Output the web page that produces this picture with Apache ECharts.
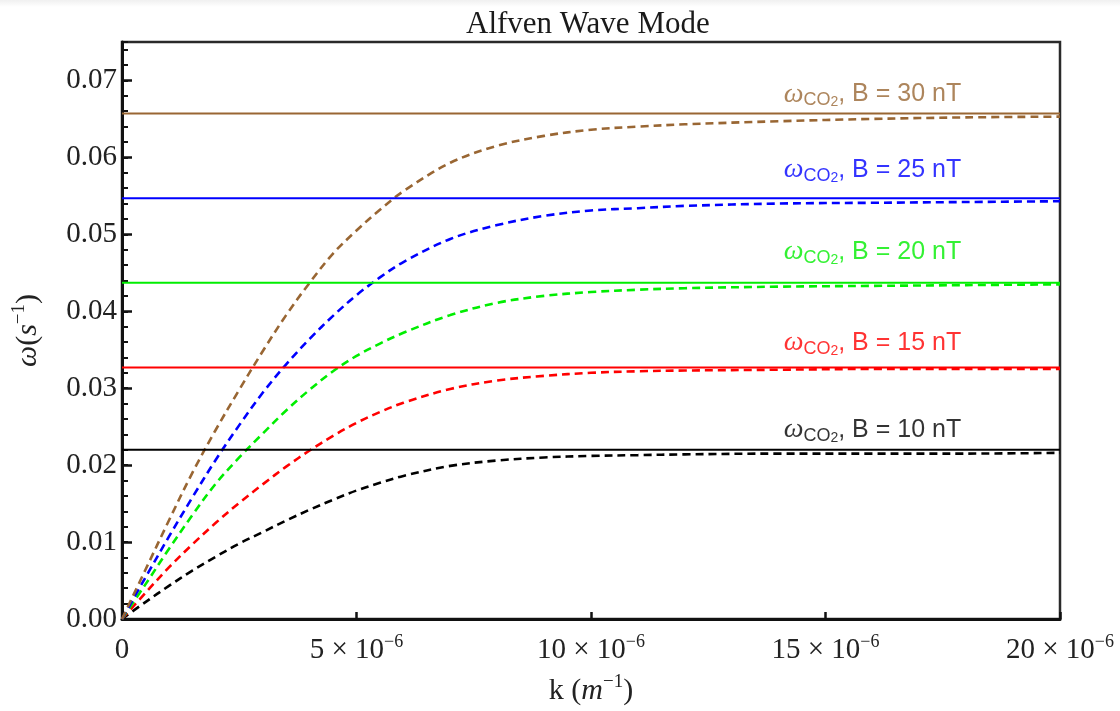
<!DOCTYPE html>
<html>
<head>
<meta charset="utf-8">
<title>Alfven Wave Mode</title>
<script src="https://cdn.jsdelivr.net/npm/echarts@6/dist/echarts.min.js"></script>
<style>
  html, body { margin: 0; padding: 0; background: #ffffff; }
  #chart { width: 1120px; height: 711px; }
</style>
</head>
<body>
<div id="chart"></div>
<script>
// Wavenumber k, in units of 10^-6 m^-1
const kValues = [0, 0.5, 1, 1.5, 2, 2.5, 3, 3.5, 4, 4.5, 5, 5.5, 6, 7, 8, 9, 10, 11, 12, 14, 16, 18, 20];

// Alfven-mode dispersion omega(k) in s^-1, one curve per field strength
const omegaB10 = [0, 0.0022, 0.0043, 0.0063, 0.0081, 0.0098, 0.0113, 0.0128, 0.0142, 0.0155, 0.0167, 0.0177, 0.0186, 0.0199, 0.0206, 0.0210, 0.0212, 0.0213, 0.0214, 0.0215, 0.0215, 0.0215, 0.0216];
const omegaB15 = [0, 0.0034, 0.0067, 0.0097, 0.0125, 0.0151, 0.0175, 0.0198, 0.0219, 0.0238, 0.0255, 0.0269, 0.0281, 0.0299, 0.0310, 0.0316, 0.0320, 0.0322, 0.0323, 0.0324, 0.0325, 0.0325, 0.0325];
const omegaB20 = [0, 0.0045, 0.0091, 0.0135, 0.0176, 0.0210, 0.0241, 0.0271, 0.0298, 0.0322, 0.0342, 0.0358, 0.0372, 0.0395, 0.0411, 0.0420, 0.0425, 0.0428, 0.0430, 0.0432, 0.0433, 0.0434, 0.0435];
const omegaB25 = [0, 0.0054, 0.0107, 0.0158, 0.0207, 0.0252, 0.0294, 0.0331, 0.0364, 0.0394, 0.0421, 0.0444, 0.0464, 0.0494, 0.0512, 0.0524, 0.0531, 0.0534, 0.0537, 0.0540, 0.0541, 0.0542, 0.0543];
const omegaB30 = [0, 0.0064, 0.0128, 0.0190, 0.0246, 0.0298, 0.0348, 0.0395, 0.0437, 0.0475, 0.0505, 0.0532, 0.0556, 0.0593, 0.0615, 0.0628, 0.0636, 0.0640, 0.0643, 0.0647, 0.0650, 0.0652, 0.0653];

// Field strengths (nT) and the limiting frequency omega_CO2 for each
const fieldB = [10, 15, 20, 25, 30];
const omegaCO2 = [0.0220, 0.0327, 0.0437, 0.0547, 0.0657];

// Where each omega_CO2 caption sits (k in 10^-6 m^-1, omega in s^-1)
const captionK = 16;
const captionOmega = [0.0246, 0.0359, 0.0477, 0.0584, 0.0682];

// Axis tick values
const xTicks = [0, 5, 10, 15, 20];
const yTicks = [0, 0.01, 0.02, 0.03, 0.04, 0.05, 0.06, 0.07];

const curves = [omegaB10, omegaB15, omegaB20, omegaB25, omegaB30];
const colors = ['#000000', '#ff0000', '#00ee00', '#0000ff', '#996633'];

const serif = '"Liberation Serif", "Times New Roman", serif';
const sans = '"Liberation Sans", Arial, sans-serif';
const textColor = '#222222';

const series = [];
fieldB.forEach((b, i) => {
  series.push({
    name: 'omega B=' + b,
    type: 'line',
    data: kValues.map((k, j) => [k, curves[i][j]]),
    showSymbol: false,
    smooth: 0.35,
    lineStyle: { color: colors[i], width: 2.6, type: [8, 5] },
    z: 3
  });
  series.push({
    name: 'omegaCO2 B=' + b,
    type: 'line',
    data: [[xTicks[0], omegaCO2[i]], [xTicks[xTicks.length - 1], omegaCO2[i]]],
    showSymbol: false,
    lineStyle: { color: colors[i], width: 2 },
    z: 4
  });
  series.push({
    name: 'caption B=' + b,
    type: 'scatter',
    data: [[captionK, captionOmega[i], b]],
    symbolSize: 0,
    silent: true,
    z: 5,
    label: {
      show: true,
      position: 'inside',
      formatter: p => '{w|ω}{sub|CO}{sub2|2}{t|, B = ' + p.value[2] + ' nT}',
      rich: {
        w: { fontFamily: serif, fontStyle: 'italic', fontSize: 28, lineHeight: 30, color: colors[i] },
        sub: { fontFamily: sans, fontSize: 18, lineHeight: 17, verticalAlign: 'bottom', color: colors[i] },
        sub2: { fontFamily: sans, fontSize: 14, lineHeight: 4, verticalAlign: 'bottom', color: colors[i] },
        t: { fontFamily: sans, fontSize: 25, lineHeight: 30, color: colors[i] }
      }
    }
  });
});

const chart = echarts.init(document.getElementById('chart'), null, { renderer: 'canvas' });

chart.setOption({
  animation: false,
  backgroundColor: '#ffffff',
  title: {
    text: 'Alfven Wave Mode',
    left: 461,
    top: 4,
    textStyle: { fontFamily: serif, fontSize: 31, fontWeight: 'normal', color: '#1a1a1a' }
  },
  graphic: [{
    type: 'rect',
    left: 0, top: 0,
    shape: { width: 1120, height: 7 },
    style: {
      fill: new echarts.graphic.LinearGradient(0, 0, 0, 1, [
        { offset: 0, color: '#f0f0f0' }, { offset: 1, color: '#ffffff' }
      ])
    },
    silent: true
  }],
  grid: {
    left: 122, right: 60, top: 42, bottom: 90,
    show: true, borderColor: '#2a2a2a', borderWidth: 2.5
  },
  xAxis: {
    type: 'value',
    min: xTicks[0], max: xTicks[xTicks.length - 1], interval: 5,
    name: '{n|k (}{i|m}{sup|−1}{n|)}',
    nameLocation: 'middle',
    nameGap: 54,
    nameTextStyle: {
      rich: {
        n: { fontFamily: serif, fontSize: 30, lineHeight: 36, color: textColor },
        i: { fontFamily: serif, fontStyle: 'italic', fontSize: 30, lineHeight: 36, color: textColor },
        sup: { fontFamily: serif, fontSize: 19, lineHeight: 19, verticalAlign: 'top', color: textColor }
      }
    },
    axisLine: { lineStyle: { color: '#111', width: 3 } },
    axisTick: { inside: true, length: 7, lineStyle: { color: '#111', width: 2.5 } },
    splitLine: { show: false },
    axisLabel: {
      margin: 14,
      formatter: v => v === 0 ? '{n|0}' : '{n|' + v + ' × 10}{sup|−6}',
      rich: {
        n: { fontFamily: serif, fontSize: 29, lineHeight: 34, color: textColor },
        sup: { fontFamily: serif, fontSize: 18, lineHeight: 18, verticalAlign: 'top', color: textColor }
      }
    }
  },
  yAxis: [{
    type: 'value',
    position: 'left',
    min: yTicks[0], max: 0.075, interval: 0.01,
    name: '{w|ω}{n|(}{i|s}{sup|−1}{n|)}',
    nameLocation: 'middle',
    nameGap: 76,
    nameTextStyle: {
      rich: {
        w: { fontFamily: serif, fontStyle: 'italic', fontSize: 30, lineHeight: 36, color: textColor },
        n: { fontFamily: serif, fontSize: 30, lineHeight: 36, color: textColor },
        i: { fontFamily: serif, fontStyle: 'italic', fontSize: 30, lineHeight: 36, color: textColor },
        sup: { fontFamily: serif, fontSize: 19, lineHeight: 19, verticalAlign: 'top', color: textColor }
      }
    },
    axisLine: { lineStyle: { color: '#111', width: 3 } },
    axisTick: { inside: true, length: 10, lineStyle: { color: '#111', width: 2.5 } },
    splitLine: { show: false },
    axisLabel: {
      margin: 5,
      showMaxLabel: false,
      fontFamily: serif, fontSize: 29, color: textColor,
      formatter: v => v.toFixed(2)
    }
  }, {
    // minor ticks every 0.002
    type: 'value',
    position: 'left',
    min: yTicks[0], max: 0.075, interval: 0.002,
    axisLine: { show: false },
    axisTick: { inside: true, length: 6, lineStyle: { color: '#111', width: 2 } },
    splitLine: { show: false },
    axisLabel: { show: false }
  }],
  series: series
});
</script>
</body>
</html>
